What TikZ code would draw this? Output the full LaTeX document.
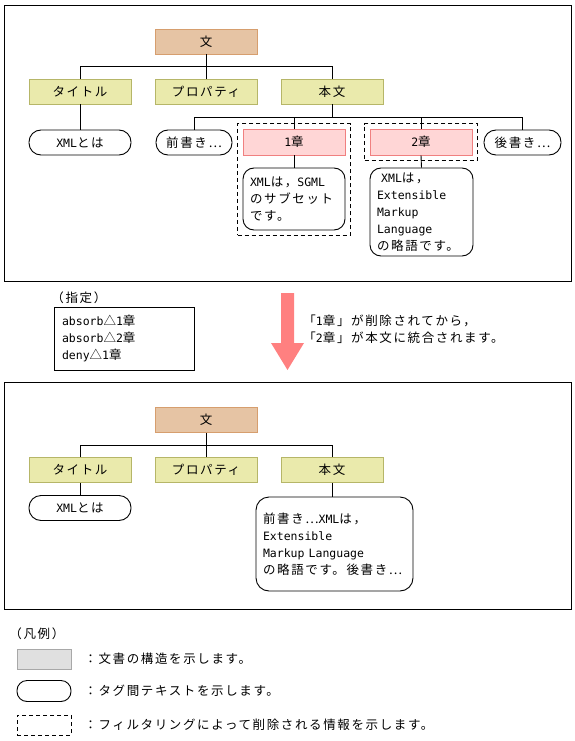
\documentclass[tikz,border=0pt]{standalone}
\usepackage{fontspec}
\setmainfont[LetterSpace=13]{Noto Sans CJK JP}
\newfontfamily\latinmono{DejaVu Sans Mono}
\newcommand{\en}[1]{{\latinmono\fontsize{11.5}{17}\selectfont #1}}
\usepackage{tikz}
\usetikzlibrary{positioning,fit,calc}
\definecolor{rootfill}{RGB}{230,196,164}
\definecolor{rootline}{RGB}{214,158,110}
\definecolor{elemfill}{RGB}{234,234,172}
\definecolor{elemline}{RGB}{182,182,104}
\definecolor{chapfill}{RGB}{255,214,214}
\definecolor{chapline}{RGB}{240,128,128}
\definecolor{legfill}{RGB}{224,224,224}
\definecolor{legline}{RGB}{168,168,168}
\definecolor{arrowred}{RGB}{255,128,128}

\begin{document}
\begin{tikzpicture}[x=1pt,y=-1pt,line width=0.9pt,
    font=\fontsize{12.5}{17}\selectfont,
    root/.style={draw=rootline,fill=rootfill,minimum width=102pt,
                 minimum height=25pt,inner sep=0pt},
    elem/.style={draw=elemline,fill=elemfill,minimum width=102pt,
                 minimum height=25pt,inner sep=0pt},
    chap/.style={draw=chapline,fill=chapfill,minimum width=102pt,
                 minimum height=26pt,inner sep=0pt},
    pill/.style={draw=black,rounded corners=12pt,minimum height=25pt,
                 inner sep=0pt},
    textbox/.style={draw=black,rounded corners=11pt,align=left,
                    inner xsep=7pt,inner ysep=0pt},
    cut/.style={draw=black,dash pattern=on 4pt off 3pt,inner sep=5pt},
    label/.style={anchor=west,inner sep=0pt,align=left}]
    \useasboundingbox (0,0) rectangle (575,741);
    % frames
    \draw (4,5) rectangle (571,281);
    \draw (4,382) rectangle (571,609);
    % before
    \coordinate (bus1) at (0,66);
    \coordinate (bus2) at (0,117);
    \node[root] (root1) at (206,41.5) {文};
    \node[elem] (title1) at (80,91.5) {タイトル};
    \node[elem] (prop1) at (206,91.5) {プロパティ};
    \node[elem] (body1) at (332,91.5) {本文};
    \node[pill,minimum width=102pt] (xml1) at (80,142.5) {\en{XML}とは};
    \node[pill,minimum width=76pt] (pre1) at (194,142.5) {前書き⋯};
    \node[chap] (ch1) at (294,142) {\en{1}章};
    \node[chap] (ch2) at (421,142) {\en{2}章};
    \node[pill,minimum width=77pt] (post1) at (522.5,142.5) {後書き⋯};
    \node[textbox,text width=88pt,minimum height=62pt] (ch1txt) at (294,199)
      {\en{XML}は，\en{SGML}\\のサブセット\\です。};
    \node[textbox,text width=89pt,minimum height=88pt] (ch2txt) at (421.5,212)
      {\en{ XML}は，\\\en{ Extensible}\\\en{ Markup}\\\en{ Language}\\の略語です。};
    \node[cut,fit=(ch1)(ch1txt)] (cut1) {};
    \node[cut,fit=(ch2)] (cut2) {};
    \draw (root1.south) -- (root1.south |- bus1);
    \draw (title1.north) |- (bus1 -| body1.north) -- (body1.north);
    \draw (prop1.north) -- (prop1.north |- bus1);
    \draw (title1.south) -- (xml1.north);
    \draw (body1.south) -- (body1.south |- bus2);
    \draw (pre1.north) |- (bus2 -| post1.north) -- (post1.north);
    \draw (ch1.north) -- (ch1.north |- bus2);
    \draw (ch2.north) -- (ch2.north |- bus2);
    \draw (ch1.south) -- (ch1txt.north);
    \draw (ch2.south) -- (ch2txt.north);
    % filter spec and arrow
    \node[label] (speclbl) at (51,298) {（指定）};
    \node[draw=black,align=left,text width=124pt,inner xsep=8pt,
          minimum height=63pt] (spec) at (124,338.5)
      {\en{absorb}△\en{1}章\\\en{absorb}△\en{2}章\\\en{deny}△\en{1}章};
    \fill[arrowred] (281,293) -- (294,293) -- (294,343) -- (304,343)
      -- (287.5,370) -- (271,343) -- (281,343) -- cycle;
    \node[label] (note) at (303,329)
      {「\en{1}章」が削除されてから，\\「\en{2}章」が本文に統合されます。};
    % after
    \coordinate (bus3) at (0,445);
    \node[root] (root2) at (206,420) {文};
    \node[elem] (title2) at (80,470) {タイトル};
    \node[elem] (prop2) at (206,470) {プロパティ};
    \node[elem] (body2) at (332,470) {本文};
    \node[pill,minimum width=102pt] (xml2) at (80,508) {\en{XML}とは};
    \node[textbox,rounded corners=13pt,text width=143pt,inner xsep=7pt,
          minimum height=94pt] (bodytxt) at (334.5,544)
      {前書き⋯\en{XML}は，\\\en{Extensible}\\\en{Markup Language}\\の略語です。後書き⋯};
    \draw (root2.south) -- (root2.south |- bus3);
    \draw (title2.north) |- (bus3 -| body2.north) -- (body2.north);
    \draw (prop2.north) -- (prop2.north |- bus3);
    \draw (title2.south) -- (xml2.north);
    \draw (body2.south) -- (body2.south |- bodytxt.north);
    % legend
    \node[label] (leglbl) at (9,634) {（凡例）};
    \node[draw=legline,fill=legfill,minimum width=54pt,minimum height=20pt,
          inner sep=0pt] (legbox) at (44,659) {};
    \node[pill,rounded corners=10pt,minimum width=54pt,minimum height=21pt]
      (legpill) at (44,691) {};
    \node[cut,inner sep=0pt,minimum width=54pt,minimum height=20pt]
      (legcut) at (44,725) {};
    \node[label] (legboxtxt) at (84,659) {：文書の構造を示します。};
    \node[label] (legpilltxt) at (84,691) {：タグ間テキストを示します。};
    \node[label] (legcuttxt) at (84,725)
      {：フィルタリングによって削除される情報を示します。};
\end{tikzpicture}
\end{document}
